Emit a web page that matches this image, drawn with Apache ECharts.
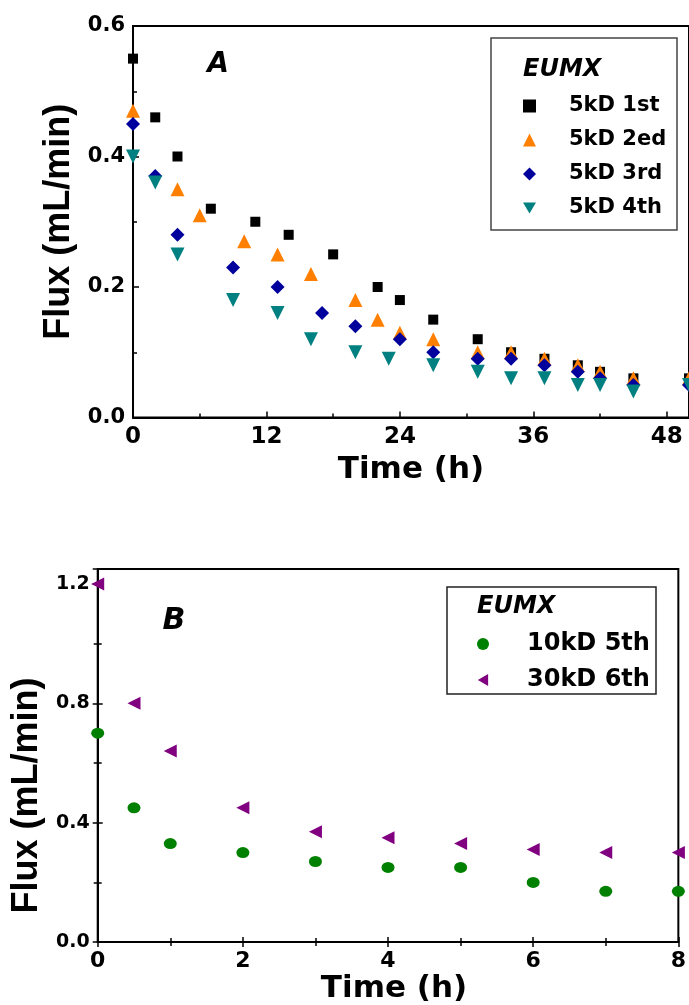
<!DOCTYPE html>
<html>
<head>
<meta charset="utf-8">
<script src="https://cdn.jsdelivr.net/npm/echarts@6/dist/echarts.min.js"></script>
<style>
html,body{margin:0;padding:0;background:#fff;}
#chart{width:689px;height:1005px;}
</style>
</head>
<body>
<div id="chart"></div>
<script>
// ---- Panel A data ----
const seriesNamesA = ['5kD 1st', '5kD 2ed', '5kD 3rd', '5kD 4th'];
const timeA1 = [0, 2, 4, 7, 11, 14, 18, 22, 24, 27, 31, 34, 37, 40, 42, 45, 50];
const fluxA1 = [0.55, 0.46, 0.40, 0.32, 0.30, 0.28, 0.25, 0.20, 0.18, 0.15, 0.12, 0.10, 0.09, 0.08, 0.07, 0.06, 0.06];
const timeA2 = [0, 4, 6, 10, 13, 16, 20, 22, 24, 27, 31, 34, 37, 40, 42, 45, 50];
const fluxA2 = [0.47, 0.35, 0.31, 0.27, 0.25, 0.22, 0.18, 0.15, 0.13, 0.12, 0.10, 0.10, 0.09, 0.08, 0.07, 0.06, 0.06];
const timeA3 = [0, 2, 4, 9, 13, 17, 20, 24, 27, 31, 34, 37, 40, 42, 45, 50];
const fluxA3 = [0.45, 0.37, 0.28, 0.23, 0.20, 0.16, 0.14, 0.12, 0.10, 0.09, 0.09, 0.08, 0.07, 0.06, 0.05, 0.05];
const timeA4 = [0, 2, 4, 9, 13, 16, 20, 23, 27, 31, 34, 37, 40, 42, 45, 50];
const fluxA4 = [0.40, 0.36, 0.25, 0.18, 0.16, 0.12, 0.10, 0.09, 0.08, 0.07, 0.06, 0.06, 0.05, 0.05, 0.04, 0.05];

// ---- Panel B data ----
const seriesNamesB = ['10kD 5th', '30kD 6th'];
const timeB = [0, 0.5, 1, 2, 3, 4, 5, 6, 7, 8];
const flux10kD = [0.70, 0.45, 0.33, 0.30, 0.27, 0.25, 0.25, 0.20, 0.17, 0.17];
const flux30kD = [1.20, 0.80, 0.64, 0.45, 0.37, 0.35, 0.33, 0.31, 0.30, 0.30];

const legendTitle = 'EUMX';
const panelLabels = ['A', 'B'];
const axisTitleX = 'Time (h)';
const axisTitleY = 'Flux (mL/min)';

const zip = (xs, ys) => xs.map((x, i) => [x, ys[i]]);

const WIDE = 'DejaVu Sans';
const NARROW = 'Liberation Sans';
const ICON_DOWN = 'path://M0,0 L14,0 L7,12 Z';
const ICON_LEFT = 'path://M12,0 L12,14 L0,7 Z';

function valueAxis(o) {
  return Object.assign({
    type: 'value',
    axisLine: { show: true, onZero: false, lineStyle: { color: '#000', width: 2 } },
    axisTick: { show: true, inside: true, length: 6, lineStyle: { color: '#000', width: 1.5 } },
    minorTick: { show: true, splitNumber: 2, length: 4, lineStyle: { color: '#000', width: 1.5 } },
    splitLine: { show: false },
    minorSplitLine: { show: false },
    axisLabel: { color: '#000', fontWeight: 'bold', fontFamily: WIDE, margin: 8, showMaxLabel: false }
  }, o);
}

const chart = echarts.init(document.getElementById('chart'), null, { renderer: 'canvas' });

const option = {
  animation: false,
  backgroundColor: '#fff',
  grid: [
    { left: 133, top: 26, width: 559.5, height: 391.5, show: true, borderColor: '#000', borderWidth: 2, containLabel: false },
    { left: 97.7, top: 569, width: 585, height: 377, show: true, borderColor: '#000', borderWidth: 2, containLabel: false }
  ],
  xAxis: [
    valueAxis({
      gridIndex: 0, min: 0, max: 50, interval: 12,
      axisLabel: { color: '#000', fontWeight: 'bold', fontFamily: WIDE, fontSize: 23, margin: 8, showMaxLabel: false },
      name: axisTitleX, nameLocation: 'middle', nameGap: 37,
      nameTextStyle: { color: '#000', fontWeight: 'bold', fontFamily: WIDE, fontSize: 31 }
    }),
    valueAxis({
      gridIndex: 1, min: 0, max: 8, interval: 2,
      axisTick: { show: true, inside: true, length: 5, lineStyle: { color: '#000', width: 1.5 } },
      axisLabel: { color: '#000', fontWeight: 'bold', fontFamily: WIDE, fontSize: 22, margin: 8, showMaxLabel: true },
      name: axisTitleX, nameLocation: 'middle', nameGap: 27,
      nameTextStyle: { color: '#000', fontWeight: 'bold', fontFamily: WIDE, fontSize: 31, padding: [0, 0, 0, 12] }
    }),
    valueAxis({
      gridIndex: 1, position: 'top', min: 0, max: 8, interval: 2,
      axisLine: { show: false },
      axisTick: { show: true, inside: true, length: 5, lineStyle: { color: '#000', width: 1.5 } },
      axisLabel: { show: false }
    })
  ],
  yAxis: [
    valueAxis({
      gridIndex: 0, min: 0, max: 0.6, interval: 0.2,
      axisLabel: { color: '#000', fontWeight: 'bold', fontFamily: WIDE, fontSize: 21, margin: 8, formatter: v => v.toFixed(1) },
      name: axisTitleY, nameLocation: 'middle', nameGap: 54,
      nameTextStyle: { color: '#000', fontWeight: 'bold', fontFamily: NARROW, fontSize: 36 }
    }),
    valueAxis({
      gridIndex: 1, min: 0, max: 1.25, interval: 0.4,
      axisTick: { show: true, inside: true, length: 5, lineStyle: { color: '#000', width: 1.5 } },
      axisLabel: { color: '#000', fontWeight: 'bold', fontFamily: WIDE, fontSize: 19, margin: 8, showMaxLabel: false, formatter: v => v.toFixed(1) },
      name: axisTitleY, nameLocation: 'middle', nameGap: 52,
      nameTextStyle: { color: '#000', fontWeight: 'bold', fontFamily: NARROW, fontSize: 36, padding: [0, 80, 0, 0] }
    }),
    valueAxis({
      gridIndex: 1, position: 'right', min: 0, max: 1.25, interval: 0.4,
      axisLine: { show: false },
      axisTick: { show: true, inside: true, length: 5, lineStyle: { color: '#000', width: 1.5 } },
      axisLabel: { show: false }
    })
  ],
  legend: [
    {
      data: [
        { name: seriesNamesA[0] },
        { name: seriesNamesA[1] },
        { name: seriesNamesA[2] },
        { name: seriesNamesA[3], icon: ICON_DOWN }
      ],
      orient: 'vertical', left: 523, top: 95, padding: 0,
      itemWidth: 13, itemHeight: 13, itemGap: 12, selectedMode: false, symbolKeepAspect: true,
      textStyle: { color: '#000', fontWeight: 'bold', fontFamily: WIDE, fontSize: 21, lineHeight: 22, padding: [0, 0, 0, 28] }
    },
    {
      data: [
        { name: seriesNamesB[0] },
        { name: seriesNamesB[1], icon: ICON_LEFT }
      ],
      orient: 'vertical', left: 477, top: 632, padding: 0,
      itemWidth: 12, itemHeight: 12, itemGap: 12, selectedMode: false, symbolKeepAspect: true,
      textStyle: { color: '#000', fontWeight: 'bold', fontFamily: WIDE, fontSize: 24, lineHeight: 22, padding: [0, 0, 0, 33] }
    }
  ],
  graphic: [
    { type: 'rect', z: 100, shape: { x: 491, y: 38, width: 186, height: 192 }, style: { fill: 'none', stroke: '#444', lineWidth: 1.5 } },
    { type: 'text', z: 100, style: { x: 523, y: 70, text: legendTitle, fill: '#000', font: 'italic bold 24px "DejaVu Sans"', verticalAlign: 'middle' } },
    { type: 'text', z: 100, style: { x: 218, y: 65, text: panelLabels[0], fill: '#000', font: 'italic bold 28px "DejaVu Sans"', align: 'center', verticalAlign: 'middle' } },
    { type: 'rect', z: 100, shape: { x: 447, y: 587, width: 209, height: 107 }, style: { fill: 'none', stroke: '#222', lineWidth: 1.5 } },
    { type: 'text', z: 100, style: { x: 477, y: 607, text: legendTitle, fill: '#000', font: 'italic bold 24px "DejaVu Sans"', verticalAlign: 'middle' } },
    { type: 'text', z: 100, style: { x: 174, y: 621, text: panelLabels[1], fill: '#000', font: 'italic bold 30px "DejaVu Sans"', align: 'center', verticalAlign: 'middle' } }
  ],
  series: [
    { name: seriesNamesA[0], type: 'scatter', xAxisIndex: 0, yAxisIndex: 0, data: zip(timeA1, fluxA1), symbol: 'rect', symbolSize: 10, itemStyle: { color: '#000000', opacity: 1 } },
    { name: seriesNamesA[1], type: 'scatter', xAxisIndex: 0, yAxisIndex: 0, data: zip(timeA2, fluxA2), symbol: 'triangle', symbolSize: 14, itemStyle: { color: '#FF8000', opacity: 1 } },
    { name: seriesNamesA[2], type: 'scatter', xAxisIndex: 0, yAxisIndex: 0, data: zip(timeA3, fluxA3), symbol: 'diamond', symbolSize: 14, itemStyle: { color: '#00009C', opacity: 1 } },
    { name: seriesNamesA[3], type: 'scatter', xAxisIndex: 0, yAxisIndex: 0, data: zip(timeA4, fluxA4), symbol: 'triangle', symbolRotate: 180, symbolSize: 14, itemStyle: { color: '#008080', opacity: 1 } },
    { name: seriesNamesB[0], type: 'scatter', xAxisIndex: 1, yAxisIndex: 1, data: zip(timeB, flux10kD), symbol: 'circle', symbolSize: [13, 11], itemStyle: { color: '#008000', opacity: 1 } },
    { name: seriesNamesB[1], type: 'scatter', xAxisIndex: 1, yAxisIndex: 1, data: zip(timeB, flux30kD), symbol: 'triangle', symbolRotate: 90, symbolSize: 13, itemStyle: { color: '#800080', opacity: 1 } }
  ]
};
chart.setOption(option);
</script>
</body>
</html>
